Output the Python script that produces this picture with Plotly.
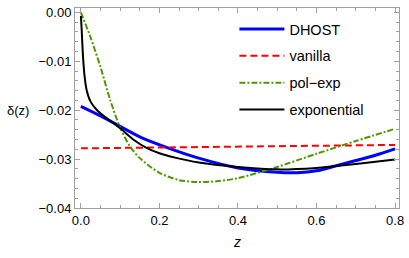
import plotly.graph_objects as go

# Data
z_dhost = [0.0, 0.056, 0.1, 0.154, 0.225, 0.3, 0.4, 0.5, 0.55, 0.6, 0.648, 0.7, 0.75, 0.8]
d_dhost = [-0.0192, -0.0214, -0.0233, -0.0256, -0.0278, -0.0298, -0.0318, -0.0327, -0.0328, -0.0324, -0.0314, -0.0303, -0.0292, -0.0279]

z_vanilla = [0.0, 0.8]
d_vanilla = [-0.0278, -0.0271]

z_polexp = [0.0, 0.025, 0.05, 0.075, 0.1, 0.125, 0.15, 0.2, 0.25, 0.3, 0.35, 0.4, 0.5, 0.6, 0.7, 0.8]
d_polexp = [0.0, -0.0052, -0.0112, -0.0180, -0.0236, -0.0274, -0.0298, -0.0328, -0.0343, -0.0347, -0.0345, -0.0339, -0.0316, -0.0289, -0.0263, -0.0238]

z_exp = [0.0, 0.002, 0.005, 0.01, 0.015, 0.025, 0.04, 0.06, 0.08, 0.1, 0.137, 0.167, 0.2, 0.24, 0.3, 0.4, 0.5, 0.6, 0.65, 0.7, 0.8]
d_exp = [-0.0007, -0.0035, -0.0085, -0.0135, -0.0160, -0.0183, -0.0199, -0.0213, -0.0225, -0.0237, -0.0262, -0.0277, -0.0288, -0.0297, -0.0307, -0.0316, -0.0321, -0.0318, -0.0314, -0.0310, -0.0301]

FONT = "Liberation Sans, Arial, sans-serif"
fig = go.Figure()
fig.add_trace(go.Scatter(x=z_dhost, y=d_dhost, mode="lines", name="DHOST", legendgroup="a",
                         line=dict(color="#0000ff", width=3, shape="spline", smoothing=0.8)))
fig.add_trace(go.Scatter(x=z_vanilla, y=d_vanilla, mode="lines", name="vanilla", legendgroup="b",
                         line=dict(color="#ff0000", width=2, dash="7px,4px")))
fig.add_trace(go.Scatter(x=z_polexp, y=d_polexp, mode="lines", name="pol\u2212exp", legendgroup="c",
                         line=dict(color="#4c9a00", width=2, dash="6px,2px,2px,2px", shape="spline", smoothing=0.8)))
fig.add_trace(go.Scatter(x=z_exp, y=d_exp, mode="lines", name="exponential", legendgroup="d",
                         line=dict(color="#000000", width=2, shape="spline", smoothing=0.6)))

axcommon = dict(showgrid=False, zeroline=False, showline=True, linecolor="#a0a0a0", linewidth=1,
                mirror="allticks", ticks="inside", ticklen=5, tickcolor="#a0a0a0", tickwidth=1,
                ticklabeloverflow="allow",
                tickfont=dict(family=FONT, size=13, color="#000000"))
fig.update_layout(
    width=409, height=258,
    margin=dict(l=75, r=7, t=5, b=50),
    paper_bgcolor="white", plot_bgcolor="white",
    font=dict(family=FONT, size=13, color="#000000"),
    xaxis=dict(range=[-0.015, 0.81], tickvals=[0.0, 0.2, 0.4, 0.6, 0.8], tickformat=".1f",
               minor=dict(dtick=0.05, tick0=0, ticks="inside", ticklen=3, tickcolor="#a0a0a0"),
               **axcommon),
    yaxis=dict(range=[-0.04, 0.0009], tickvals=[0.0, -0.01, -0.02, -0.03, -0.04], tickformat=".2f",
               minor=dict(dtick=0.002, tick0=0, ticks="inside", ticklen=3, tickcolor="#a0a0a0"),
               **axcommon),
    showlegend=True,
    legend=dict(x=0.492, y=0.975, xanchor="left", yanchor="top", bgcolor="rgba(0,0,0,0)",
                font=dict(family=FONT, size=14.5), tracegroupgap=5, itemwidth=45),
    annotations=[
        dict(text="\u03b4(z)", xref="paper", yref="paper", x=-0.175, y=0.49, showarrow=False,
             xanchor="center", yanchor="middle", font=dict(family=FONT, size=13)),
        dict(text="<i>z</i>", xref="paper", yref="paper", x=0.5, y=-0.17, showarrow=False,
             xanchor="center", yanchor="middle", font=dict(family=FONT, size=14)),
    ],
)
fig.write_html("out.html", config={"displayModeBar": False},
               post_script="document.body.style.margin='0';")
